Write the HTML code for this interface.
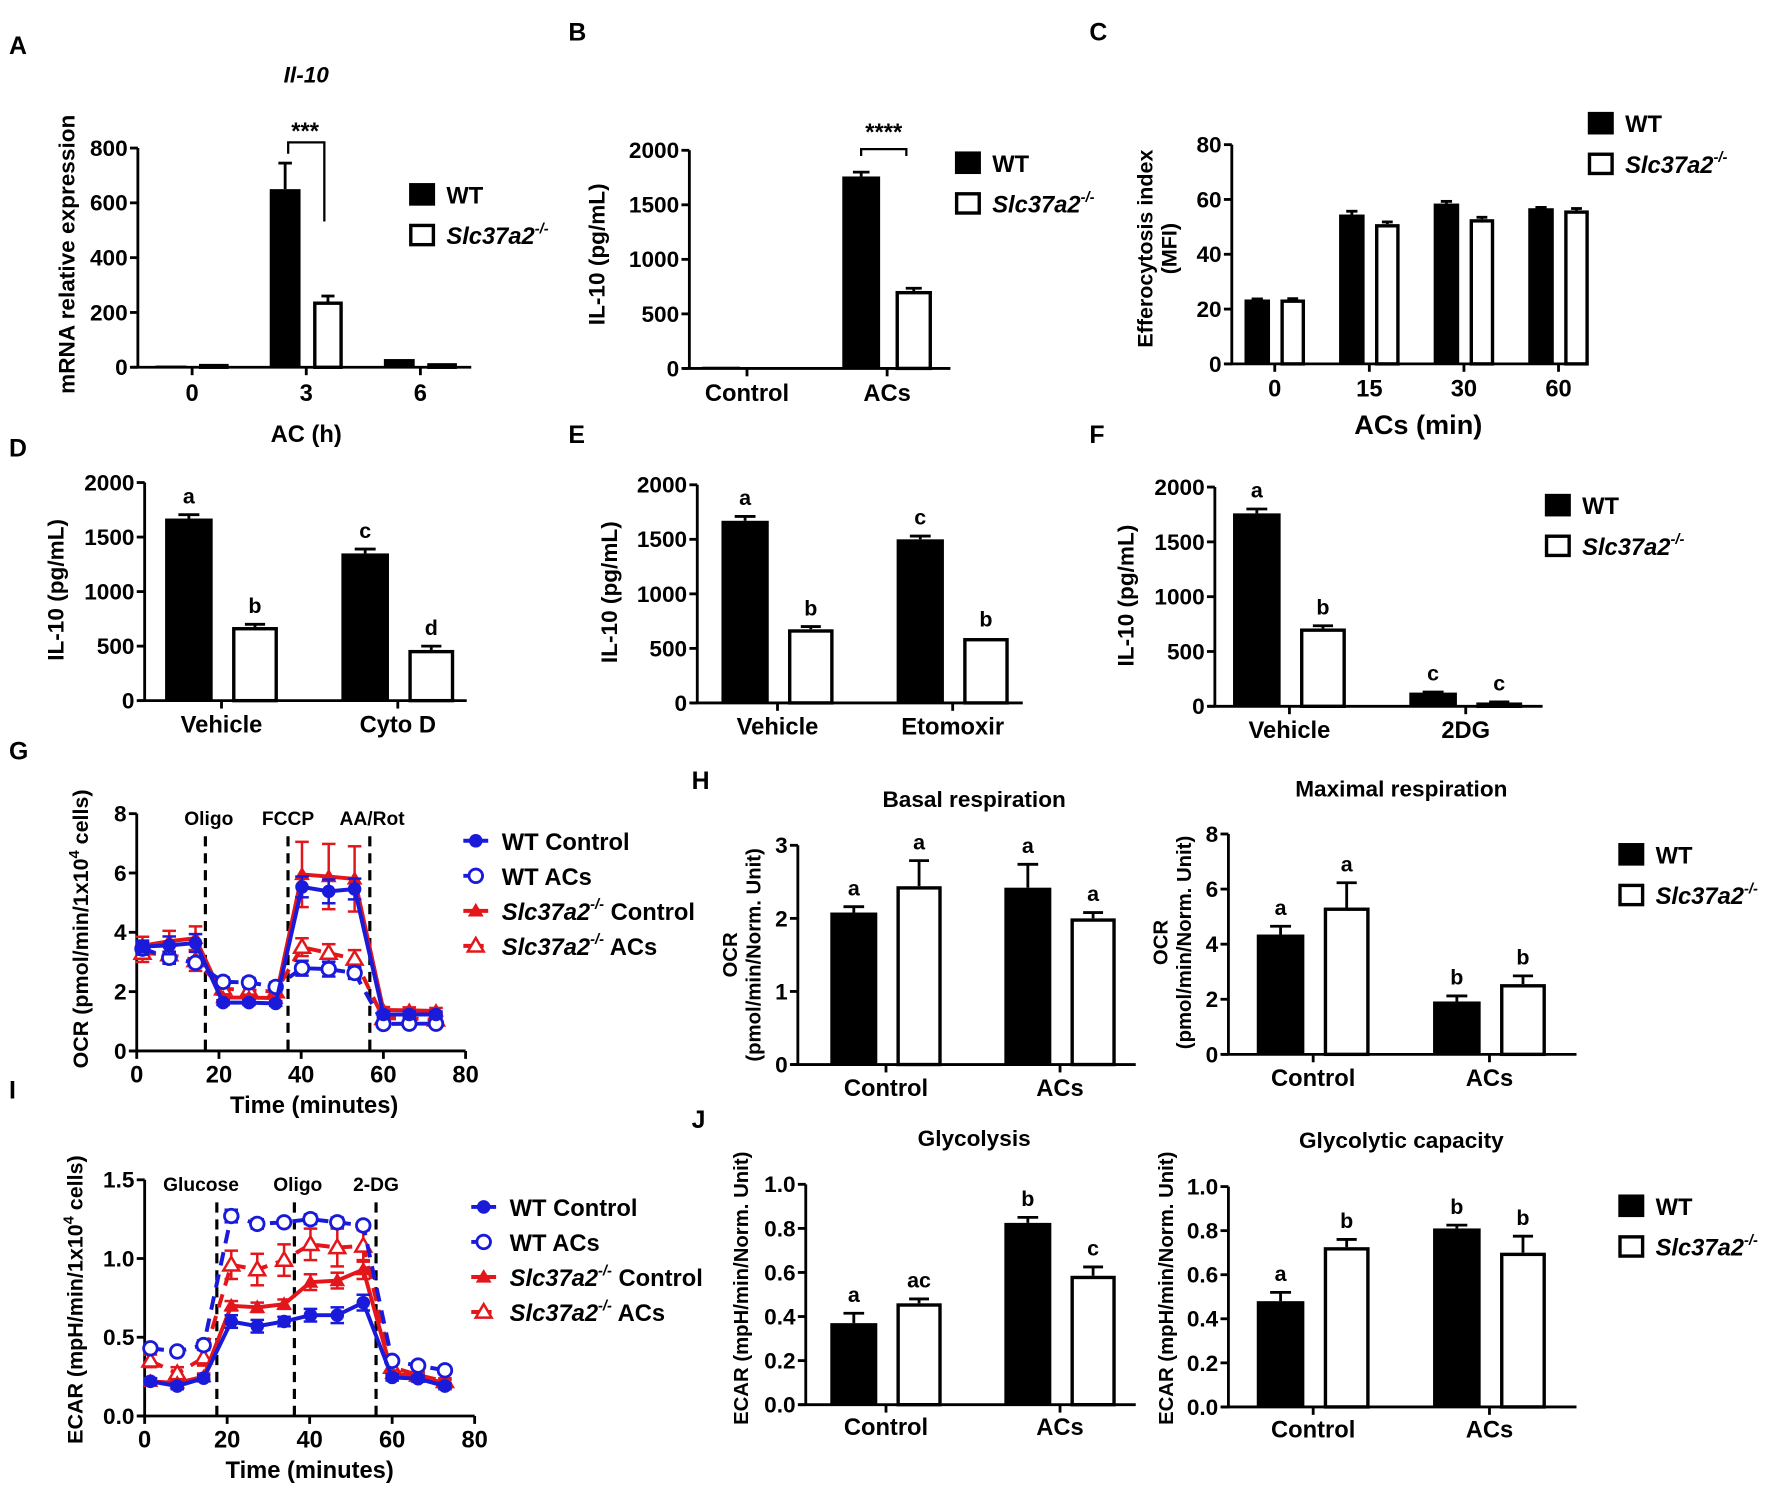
<!DOCTYPE html>
<html><head><meta charset="utf-8"><style>
html,body{margin:0;padding:0;background:#fff;}
svg{display:block;}
text{font-family:"Liberation Sans Narrow","Liberation Sans",sans-serif;font-weight:bold;fill:#000;}
</style></head><body>
<svg id="fig" xmlns="http://www.w3.org/2000/svg" width="1772" height="1490" viewBox="0 0 1568 1318.5" preserveAspectRatio="none"></svg>
<script>
// ---------- DATA ----------
const aCats=['0','3','6'];const aWT=[3,650,30];const aWTErr=[0,95,0];const aKO=[5,240,15];const aKOErr=[0,20,0];
const bCats=['Control','ACs'];const bWT=[0,1760];const bWTErr=[0,40];const bKO=[0,710];const bKOErr=[0,25];
const cCats=['0','15','30','60'];const cWT=[23.5,54.5,58.5,56.8];const cWTErr=[0.2,1.2,0.8,0.3];const cKO=[23.5,51,52.8,56];const cKOErr=[0.3,0.8,0.7,0.7];
const dCats=['Vehicle','Cyto D'];const dWT=[1670,1350];const dWTErr=[35,40];const dKO=[675,465];const dKOErr=[25,35];const dLetWT=['a','c'];const dLetKO=['b','d'];
const eCats=['Vehicle','Etomoxir'];const eWT=[1670,1500];const eWTErr=[40,30];const eKO=[675,595];const eKOErr=[25,0];const eLetWT=['a','c'];const eLetKO=['b','b'];
const fCats=['Vehicle','2DG'];const fWT=[1760,125];const fWTErr=[40,5];const fKO=[710,35];const fKOErr=[25,5];const fLetWT=['a','c'];const fLetKO=['b','c'];
const hbCats=['Control','ACs'];const hbWT=[2.08,2.42];const hbWTErr=[0.08,0.32];const hbKO=[2.44,2.0];const hbKOErr=[0.35,0.08];const hbLetWT=['a','a'];const hbLetKO=['a','a'];
const hmCats=['Control','ACs'];const hmWT=[4.35,1.92];const hmWTErr=[0.3,0.2];const hmKO=[5.33,2.55];const hmKOErr=[0.9,0.3];const hmLetWT=['a','b'];const hmLetKO=['a','b'];
const jgCats=['Control','ACs'];const jgWT=[0.37,0.825];const jgWTErr=[0.045,0.025];const jgKO=[0.46,0.585];const jgKOErr=[0.02,0.04];const jgLetWT=['a','b'];const jgLetKO=['ac','c'];
const jcCats=['Control','ACs'];const jcWT=[0.48,0.81];const jcWTErr=[0.04,0.015];const jcKO=[0.725,0.70];const jcKOErr=[0.035,0.075];const jcLetWT=['a','b'];const jcLetKO=['b','b'];
const times=[1.4,7.9,14.3,21,27.3,33.8,40.2,46.7,53,60,66.3,72.8];
const gWTCtl=[3.52,3.56,3.64,1.63,1.63,1.6,5.53,5.38,5.46,1.23,1.23,1.23];
const gWTCtlErr=[0.2,0.3,0.3,0.08,0.08,0.08,0.35,0.4,0.35,0.1,0.1,0.1];
const gWTAC=[3.45,3.14,2.97,2.33,2.31,2.16,2.79,2.76,2.63,0.91,0.92,0.92];
const gWTACErr=[0.2,0.2,0.15,0.15,0.15,0.15,0.25,0.25,0.2,0.08,0.08,0.08];
const gKOCtl=[3.55,3.7,3.8,1.8,1.8,1.78,5.95,5.88,5.8,1.38,1.37,1.35];
const gKOCtlErr=[0.3,0.35,0.4,0.1,0.1,0.1,1.1,1.1,1.1,0.1,0.1,0.1];
const gKOAC=[3.3,3.25,3.05,2.1,2.05,2.0,3.5,3.3,3.1,1.1,1.1,1.05];
const gKOACErr=[0.3,0.3,0.35,0.15,0.2,0.15,0.3,0.3,0.3,0.1,0.1,0.1];
const gYTicks=[0,2,4,6,8];const xTicks=[0,20,40,60,80];
const gInject=[16.7,36.8,56.7];const gInjectLabels=['Oligo','FCCP','AA/Rot'];
const iWTCtl=[0.22,0.19,0.24,0.60,0.57,0.60,0.64,0.64,0.72,0.245,0.237,0.19];
const iWTCtlErr=[0.02,0.02,0.02,0.04,0.04,0.03,0.04,0.05,0.05,0.02,0.02,0.02];
const iWTAC=[0.43,0.41,0.45,1.27,1.22,1.23,1.25,1.23,1.21,0.35,0.32,0.29];
const iWTACErr=[0.02,0.02,0.03,0.04,0.03,0.02,0.03,0.03,0.02,0.02,0.02,0.02];
const iKOCtl=[0.22,0.21,0.25,0.70,0.69,0.71,0.85,0.86,0.93,0.27,0.25,0.21];
const iKOCtlErr=[0.02,0.02,0.02,0.03,0.03,0.03,0.05,0.05,0.06,0.02,0.02,0.02];
const iKOAC=[0.35,0.27,0.37,0.96,0.93,0.99,1.09,1.07,1.08,0.31,0.26,0.22];
const iKOACErr=[0.04,0.04,0.05,0.09,0.1,0.1,0.1,0.12,0.1,0.02,0.02,0.02];
const iYTicks=[0,0.5,1.0,1.5];const iYLabels=['0.0','0.5','1.0','1.5'];
const iInject=[17.5,36.3,56.1];const iInjectLabels=['Glucose','Oligo','2-DG'];

// ---------- HELPERS ----------
const NS='http://www.w3.org/2000/svg';
const svg=document.getElementById('fig');
function mk(tag,parent){const e=document.createElementNS(NS,tag);(parent||svg).appendChild(e);return e;}
function setA(e,o){for(const k in o)e.setAttribute(k,o[k]);return e;}
function line(p,x1,y1,x2,y2,w,col,dash){const e=mk('line',p);setA(e,{x1:x1,y1:y1,x2:x2,y2:y2,stroke:col||'#000','stroke-width':w||2.5});if(dash)e.setAttribute('stroke-dasharray',dash);return e;}
function txt(p,x,y,s,size,anchor,extra){const e=mk('text',p);setA(e,{x:x,y:y,'font-size':size,'text-anchor':anchor||'middle'});if(extra)setA(e,extra);e.textContent=s;return e;}
function slcText(p,x,y,size,suffix){const e=mk('text',p);setA(e,{x:x,y:y,'font-size':size,'text-anchor':'start'});
 const t1=mk('tspan',e);t1.setAttribute('font-style','italic');t1.textContent='Slc37a2';
 const t2=mk('tspan',e);setA(t2,{'font-style':'italic','font-size':size*0.62,dy:-size*0.45});t2.textContent='-/-';
 if(suffix){const t3=mk('tspan',e);setA(t3,{dy:size*0.45});t3.textContent=' '+suffix;}return e;}
function group(name){const g=mk('g');return g;}

function barLegend(x,y){const g=group('legend');
 const r1=mk('rect',g);setA(r1,{x:x,y:y,width:23,height:20,fill:'#000'});
 
 
 const t1=txt(g,x+33,y+18,'WT',21,'start');
 
 
 const r2=mk('rect',g);setA(r2,{x:x+1.5,y:y+37.5,width:20,height:17,fill:'#fff',stroke:'#000','stroke-width':3});
 
 
 const t2=slcText(g,x+33,y+54,21);
 
 }

function barChart(name,c,cats,wt,wtE,ko,koE,letWT,letKO){
 const g=group(name);
 const ys=v=>c.y0-v/c.yMax*(c.y0-c.yTop);
 const S=c.S;
 const ya=line(g,c.ax,c.yTop,c.ax,c.y0+1);
 
 
 const xa=line(g,c.ax-6,c.y0,c.xEnd,c.y0);
 
 
 c.ticks.forEach((t,i)=>{const yy=ys(t);line(g,c.ax-7,yy,c.ax,yy,2.5);
  const tl=txt(g,c.ax-9,yy+7,c.tickLabels?c.tickLabels[i]:String(t),c.tickSize||20,'end');
  
  });
 cats.forEach((cat,i)=>{const cx=c.c0+i*S;
  line(g,cx,c.y0,cx,c.y0+7,2.5);
  const gl=txt(g,cx,c.labY,cat,c.labSize||21);
  
  
  const x1=cx-0.32*S,x2=cx-0.05*S,wv=wt[i],ty=ys(wv);
  if(wtE[i]>0){line(g,(x1+x2)/2,ty,(x1+x2)/2,ys(wv+wtE[i]),2.5);line(g,(x1+x2)/2-(x2-x1)*0.22,ys(wv+wtE[i]),(x1+x2)/2+(x2-x1)*0.22,ys(wv+wtE[i]),2.5);}
  const b=mk('rect',g);setA(b,{x:x1,y:Math.min(ty,c.y0-1.5),width:x2-x1,height:Math.max(c.y0-ty,1.5),fill:'#000'});
  
  
  const k1=cx+0.06*S,k2=cx+0.32*S,kv=ko[i],ky=ys(kv);
  if(koE[i]>0){line(g,(k1+k2)/2,ky,(k1+k2)/2,ys(kv+koE[i]),2.5);line(g,(k1+k2)/2-(k2-k1)*0.22,ys(kv+koE[i]),(k1+k2)/2+(k2-k1)*0.22,ys(kv+koE[i]),2.5);}
  if(kv>0){const kb=mk('rect',g);setA(kb,{x:k1+1.5,y:Math.min(ky,c.y0-3)+1.5,width:k2-k1-3,height:Math.max(c.y0-ky,3)-1.5,fill:'#fff',stroke:'#000','stroke-width':3});
  
  }
  if(letWT){const l=txt(g,(x1+x2)/2,ys(wv+wtE[i])-10,letWT[i],19);
   
   
   const l2=txt(g,(k1+k2)/2,ys(kv+koE[i])-10,letKO[i],19);
   
   }
 });
 return g;}

function yLabel(g,x,y,s,size){const t=txt(g,x,y,s,size||21,'middle',{transform:'rotate(-90 '+x+' '+y+')'});return t;}

function marker(g,type,x,y,col){let m;
 if(type==='fc'){m=mk('circle',g);setA(m,{cx:x,cy:y,r:6,fill:col});}
 else if(type==='oc'){m=mk('circle',g);setA(m,{cx:x,cy:y,r:6,fill:'#fff',stroke:col,'stroke-width':2.5});}
 else if(type==='ft'){m=mk('polygon',g);setA(m,{points:(x-7)+','+(y+5)+' '+(x+7)+','+(y+5)+' '+x+','+(y-7),fill:col});}
 else {m=mk('polygon',g);setA(m,{points:(x-7)+','+(y+5)+' '+(x+7)+','+(y+5)+' '+x+','+(y-7),fill:'#fff',stroke:col,'stroke-width':2.2});}
 return m;}

function lineChart(name,c,series,yTicks,yLabels,inject,injectLabels){
 const g=group(name);
 const xs=t=>c.ax+t/80*(c.xEnd-c.ax);
 const ys=v=>c.y0-v/c.yMax*(c.y0-c.yTop);
 const ya=line(g,c.ax,c.yTop,c.ax,c.y0+1);
 
 
 const xa=line(g,c.ax-6,c.y0,c.xEnd,c.y0);
 
 
 yTicks.forEach((t,i)=>{line(g,c.ax-7,ys(t),c.ax,ys(t));
  const tl=txt(g,c.ax-9,ys(t)+7,yLabels[i],20,'end');
  
  });
 xTicks.forEach(t=>{line(g,xs(t),c.y0,xs(t),c.y0+7);
  const tl=txt(g,xs(t),c.y0+28,String(t),21);
  
  });
 inject.forEach((t,i)=>{const d=line(g,xs(t),c.yTop+20,xs(t),c.y0,2.8,'#000','9,6');
  
  
  const l=txt(g,xs(t)+c.labOff[i],c.yTop+10,injectLabels[i],17);
  
  });
 series.forEach(s=>{const sg=mk('g',g);
  
  
  const pts=times.map((t,i)=>xs(t)+','+ys(s.v[i])).join(' ');
  const pl=mk('polyline',sg);setA(pl,{points:pts,fill:'none',stroke:s.col,'stroke-width':3.5});
  if(s.dash)pl.setAttribute('stroke-dasharray','12,8');
  
  
  times.forEach((t,i)=>{const x=xs(t);
   line(sg,x,ys(s.v[i]-s.e[i]),x,ys(s.v[i]+s.e[i]),2.2,s.col);
   line(sg,x-6,ys(s.v[i]+s.e[i]),x+6,ys(s.v[i]+s.e[i]),2.2,s.col);
   line(sg,x-6,ys(s.v[i]-s.e[i]),x+6,ys(s.v[i]-s.e[i]),2.2,s.col);
   const m=marker(sg,s.m,x,ys(s.v[i]),s.col);
   
   });
 });
 const lg=mk('g',g);
 
 
 series.slice().reverse().forEach((s,i)=>{const yy=c.legY+i*31;
  line(lg,c.legX,yy,c.legX+22,yy,3.5,s.col,s.dash?'7,4':null);
  marker(lg,s.m,c.legX+11,yy,s.col);
  let t;
  if(s.label.startsWith('Slc'))t=slcText(lg,c.legX+34,yy+8,21,s.label.split(' ')[1]);
  else t=txt(lg,c.legX+34,yy+8,s.label,21,'start');
  
  });
 return g;}

// ---------- PANEL LETTERS ----------
[['A',8,48],['B',503,36],['C',964,36],['D',8,404],['E',503,392],['F',964,392],['G',8,672],['H',612,698],['I',8,972],['J',612,998]].forEach(p=>{
 const t=txt(svg,p[1],p[2],p[0],22,'start',{'font-family':'Liberation Sans, sans-serif'});
 
 });

// ---------- A ----------
let g=barChart('panel-a-il10-mrna',{ax:122,y0:325,yTop:131,yMax:800,xEnd:417,S:101,c0:170,labY:355,ticks:[0,200,400,600,800]},aCats,aWT,aWTErr,aKO,aKOErr);
let t=yLabel(g,66,225,'mRNA relative expression',20);


t=txt(g,271,391,'AC (h)',21);


t=txt(g,271,73,'Il-10',20,'middle',{'font-style':'italic'});


let br=mk('path',g);setA(br,{d:'M255,136 V126 H287 V196',fill:'none',stroke:'#000','stroke-width':2});


t=txt(g,270,123,'***',21);


barLegend(362,162);

// ---------- B ----------
g=barChart('panel-b-il10-secretion',{ax:610,y0:326,yTop:133,yMax:2000,xEnd:841,S:124,c0:661,labY:355,ticks:[0,500,1000,1500,2000]},bCats,bWT,bWTErr,bKO,bKOErr);
t=yLabel(g,535,225,'IL-10 (pg/mL)',20);


br=mk('path',g);setA(br,{d:'M762,138 V132 H802 V138',fill:'none',stroke:'#000','stroke-width':2});


t=txt(g,782,124,'****',21);


barLegend(845,134);

// ---------- C ----------
g=barChart('panel-c-efferocytosis',{ax:1090,y0:322,yTop:128,yMax:80,xEnd:1400,S:83.7,c0:1128,labY:351,ticks:[0,20,40,60,80]},cCats,cWT,cWTErr,cKO,cKOErr);
t=yLabel(g,1020,220,'Efferocytosis index',19);


t=yLabel(g,1041,220,'(MFI)',19);


t=txt(g,1255,384,'ACs (min)',24);


barLegend(1405,99);

// ---------- D E F ----------
g=barChart('panel-d-cytod',{ax:128,y0:620,yTop:427,yMax:2000,xEnd:413,S:156,c0:196,labY:648,ticks:[0,500,1000,1500,2000]},dCats,dWT,dWTErr,dKO,dKOErr,dLetWT,dLetKO);
t=yLabel(g,56,522,'IL-10 (pg/mL)',20);


g=barChart('panel-e-etomoxir',{ax:617,y0:622,yTop:429,yMax:2000,xEnd:905,S:155,c0:688,labY:650,ticks:[0,500,1000,1500,2000]},eCats,eWT,eWTErr,eKO,eKOErr,eLetWT,eLetKO);
t=yLabel(g,546,524,'IL-10 (pg/mL)',20);


g=barChart('panel-f-2dg',{ax:1075,y0:625,yTop:431,yMax:2000,xEnd:1365,S:156,c0:1141,labY:653,ticks:[0,500,1000,1500,2000]},fCats,fWT,fWTErr,fKO,fKOErr,fLetWT,fLetKO);
t=yLabel(g,1003,527,'IL-10 (pg/mL)',20);


barLegend(1367,437);

// ---------- G ----------
g=lineChart('panel-g-ocr',{ax:121,y0:930,yTop:720,yMax:8,xEnd:412,legX:410,legY:744,labOff:[3,0,2]},[
 {name:'ko-acs',label:'Slc37a2 ACs',v:gKOAC,e:gKOACErr,col:'#e3161b',m:'ot',dash:true},
 {name:'ko-control',label:'Slc37a2 Control',v:gKOCtl,e:gKOCtlErr,col:'#e3161b',m:'ft',dash:false},
 {name:'wt-acs',label:'WT ACs',v:gWTAC,e:gWTACErr,col:'#1a1adb',m:'oc',dash:true},
 {name:'wt-control',label:'WT Control',v:gWTCtl,e:gWTCtlErr,col:'#1a1adb',m:'fc',dash:false}],gYTicks,gYTicks.map(String),gInject,gInjectLabels);
t=txt(g,278,985,'Time (minutes)',21);


t=mk('text',g);setA(t,{x:0,y:0,'font-size':19,'text-anchor':'middle',transform:'translate(78 822) rotate(-90)'});
t.innerHTML='OCR (pmol/min/1x10<tspan dy="-8" font-size="13">4</tspan><tspan dy="8"> cells)</tspan>';



// ---------- I ----------
g=lineChart('panel-i-ecar',{ax:128,y0:1253,yTop:1044,yMax:1.5,xEnd:420,legX:417,legY:1068,labOff:[-14,3,0]},[
 {name:'ko-acs',label:'Slc37a2 ACs',v:iKOAC,e:iKOACErr,col:'#e3161b',m:'ot',dash:true},
 {name:'ko-control',label:'Slc37a2 Control',v:iKOCtl,e:iKOCtlErr,col:'#e3161b',m:'ft',dash:false},
 {name:'wt-acs',label:'WT ACs',v:iWTAC,e:iWTACErr,col:'#1a1adb',m:'oc',dash:true},
 {name:'wt-control',label:'WT Control',v:iWTCtl,e:iWTCtlErr,col:'#1a1adb',m:'fc',dash:false}],iYTicks,iYLabels,iInject,iInjectLabels);
t=txt(g,274,1308,'Time (minutes)',21);


t=mk('text',g);setA(t,{x:0,y:0,'font-size':19,'text-anchor':'middle',transform:'translate(73 1150) rotate(-90)'});
t.innerHTML='ECAR (mpH/min/1x10<tspan dy="-8" font-size="13">4</tspan><tspan dy="8"> cells)</tspan>';



// ---------- H ----------
g=barChart('panel-h-basal-respiration',{ax:706,y0:942,yTop:748,yMax:3,xEnd:1005,S:154,c0:784,labY:970,ticks:[0,1,2,3]},hbCats,hbWT,hbWTErr,hbKO,hbKOErr,hbLetWT,hbLetKO);
t=txt(g,862,714,'Basal respiration',20);


t=yLabel(g,652,845,'OCR',18);


t=yLabel(g,673,845,'(pmol/min/Norm. Unit)',18);


g=barChart('panel-h-maximal-respiration',{ax:1087,y0:933,yTop:738,yMax:8,xEnd:1395,S:156,c0:1162,labY:961,ticks:[0,2,4,6,8]},hmCats,hmWT,hmWTErr,hmKO,hmKOErr,hmLetWT,hmLetKO);
t=txt(g,1240,705,'Maximal respiration',20);


t=yLabel(g,1033,834,'OCR',18);


t=yLabel(g,1054,834,'(pmol/min/Norm. Unit)',18);


barLegend(1432,746);

// ---------- J ----------
g=barChart('panel-j-glycolysis',{ax:713,y0:1243,yTop:1048,yMax:1,xEnd:1005,S:154,c0:784,labY:1270,ticks:[0,0.2,0.4,0.6,0.8,1.0],tickLabels:['0.0','0.2','0.4','0.6','0.8','1.0']},jgCats,jgWT,jgWTErr,jgKO,jgKOErr,jgLetWT,jgLetKO);
t=txt(g,862,1014,'Glycolysis',20);


t=yLabel(g,662,1140,'ECAR (mpH/min/Norm. Unit)',18);


g=barChart('panel-j-glycolytic-capacity',{ax:1087,y0:1245,yTop:1050,yMax:1,xEnd:1395,S:156,c0:1162,labY:1272,ticks:[0,0.2,0.4,0.6,0.8,1.0],tickLabels:['0.0','0.2','0.4','0.6','0.8','1.0']},jcCats,jcWT,jcWTErr,jcKO,jcKOErr,jcLetWT,jcLetKO);
t=txt(g,1240,1016,'Glycolytic capacity',20);


t=yLabel(g,1038,1140,'ECAR (mpH/min/Norm. Unit)',18);


barLegend(1432,1057);
</script>
</body></html>
